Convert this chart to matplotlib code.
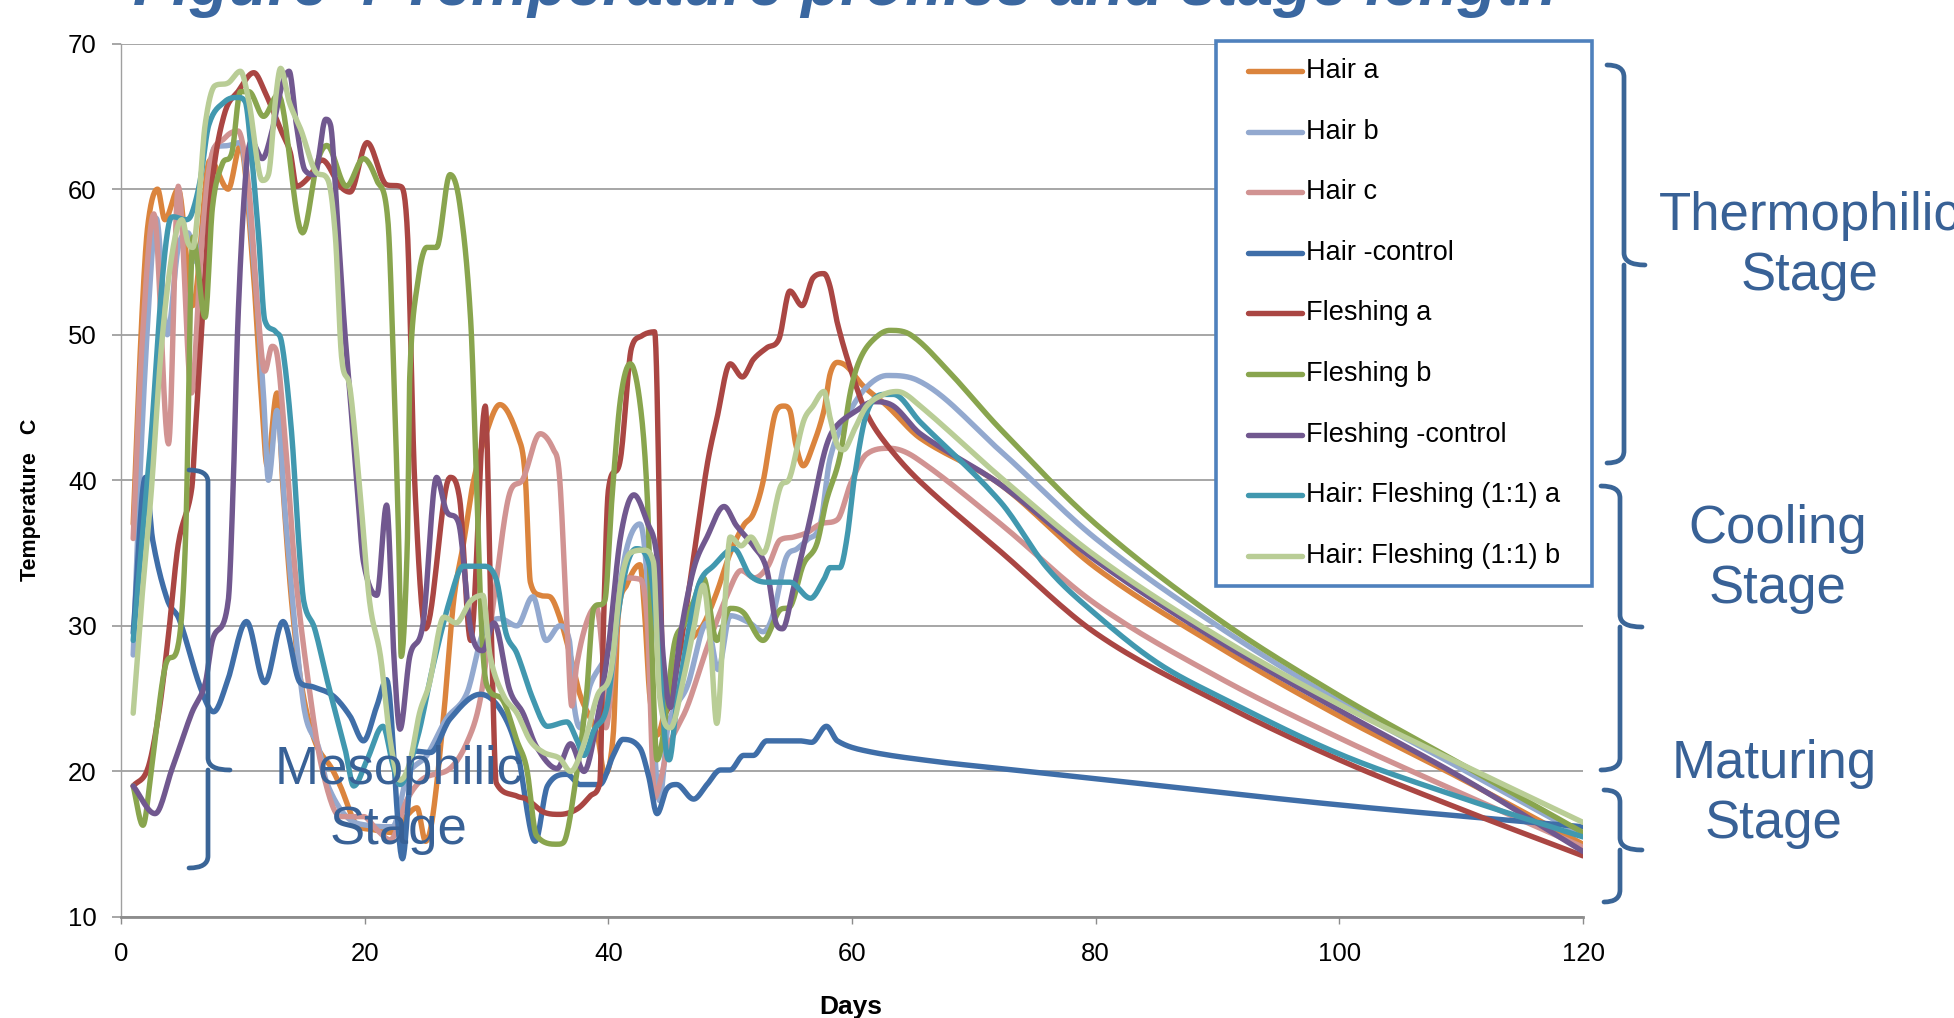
import numpy as np
import matplotlib
matplotlib.use("Agg")
import matplotlib.pyplot as plt
from matplotlib.lines import Line2D
from matplotlib.patches import Rectangle, PathPatch
from matplotlib.path import Path

plt.rcParams['font.family'] = ['Liberation Sans', 'DejaVu Sans']

# ---------------- data (day, temperature C) ----------------
series_names = ["Hair a", "Hair b", "Hair c", "Hair -control", "Fleshing a",
                "Fleshing b", "Fleshing -control", "Hair: Fleshing (1:1) a",
                "Hair: Fleshing (1:1) b"]

hair_a_days = [1, 1.7, 2.2, 3.0, 3.6, 4.7, 5.9, 7.3, 8.8, 9.8, 10.8, 11.5, 12.0, 12.8, 13.3, 14.0, 14.8,
               15.9, 17.3, 18.0, 19.4, 20.7, 22.4, 23.5, 24.3, 25.0, 25.6, 26.5, 27.3, 28.1, 28.9,
               30.0, 31.1, 32.8, 33.2, 33.6, 34.4, 35.2, 36.0, 36.9, 37.7, 39.1, 39.7, 40.4, 40.8,
               41.5, 42.6, 43.0, 43.4, 44.0, 44.9, 45.9, 46.7, 47.8, 48.9, 50.0, 51.1, 51.9, 52.7,
               53.8, 54.4, 54.9, 55.4, 56.0, 56.8, 57.7, 58.2, 58.8, 59.6, 60.9, 62.9, 65.6, 72.2,
               80, 90, 100, 110, 120]
hair_a_temp = [37, 51, 57.5, 60, 57.9, 60, 52, 62, 60, 63, 55, 46, 41, 46, 39.4, 31.7, 26,
               22.1, 20.2, 19, 16.3, 16, 15.8, 17, 17.5, 15.2, 17, 24, 31.7, 35.6, 39.8,
               43.3, 45.2, 42.5, 40, 33, 32.1, 32, 30.6, 27.9, 25.2, 22.5, 19.8, 22.5, 30.6,
               32.8, 34.2, 30.6, 25.2, 22.5, 25.2, 28.4, 29, 30.1, 32.3, 35, 36.9, 37.7, 39.9,
               44.8, 45.1, 44.8, 42.4, 41, 42.4, 44.8, 47.3, 48.1, 47.8, 46.5, 45.1, 42.9, 39.7,
               34, 28.6, 23.8, 19.5, 15.0]

hair_b_days = [1, 1.7, 2.5, 2.9, 3.8, 4.7, 5.5, 6.2, 7.7, 8.8, 9.8, 10.9, 11.7, 12.1, 12.8, 13.5,
               14.3, 15.1, 16.2, 16.9, 18.5, 20.2, 22.3, 23.5, 25.1, 26.7, 28.4, 29.7, 31.1,
               32.5, 33.8, 34.9, 36.0, 36.8, 37.2, 37.7, 38.5, 40.1, 41.5, 42.6, 43.2, 43.8,
               44.2, 44.9, 46.5, 48.1, 49.0, 50.0, 51.6, 52.7, 53.5, 54.6, 55.5, 56.3, 57.4,
               58.2, 59.6, 61.2, 62.9, 65.3, 72.2, 80, 90, 100, 110, 120]
hair_b_temp = [28, 43, 55, 58, 50, 56, 57, 55, 62.9, 63, 63.2, 55, 45.8, 40, 44.8, 37.5,
               29.8, 24, 21.7, 19.2, 16.9, 16.3, 16.2, 19.7, 21.1, 23.6, 25.4, 29.5, 30.5,
               30, 32, 29, 30, 29, 24.5, 23, 25.9, 28.7, 35.3, 37, 33, 21.6,
               18, 23.1, 25.9, 30.2, 27, 30.7, 30.2, 29.6, 30.7, 34.7, 35.3, 35.9, 37,
               41.5, 44.4, 46.4, 47.2, 46.9, 42, 36, 30, 24.8, 20.2, 15.6]

hair_c_days = [1, 1.7, 2.7, 3.9, 4.7, 5.8, 6.5, 7.3, 8.5, 9.6, 10.5, 11.2, 11.8, 12.4, 12.7, 13.5,
               14.3, 15.4, 16.5, 18.0, 19.9, 21.0, 22.1, 23.5, 24.8, 27.0, 28.4, 29.5, 30.6,
               31.9, 33.0, 34.4, 35.5, 36.0, 36.6, 37.0, 37.4, 38.2, 39.0, 39.6, 39.8, 40.4,
               41.2, 42.6, 43.2, 43.8, 44.2, 44.9, 46.5, 48.1, 49.8, 50.9, 52.0, 53.1, 54.1,
               55.2, 56.3, 57.4, 58.8, 59.9, 61.2, 63.1, 65.3, 72.2, 80, 90, 100, 110, 120]
hair_c_temp = [36, 49, 58.3, 42.5, 60.2, 46, 54.8, 61.8, 63.5, 64, 60, 52, 47.5, 49.2, 49, 42.5,
               33.7, 26, 20.2, 16.9, 16.9, 16.0, 15.3, 18.1, 19.5, 20.2, 22, 25, 31.8,
               39.1, 40.1, 43.2, 42.1, 40.2, 30.2, 24.5, 27.3, 30.2, 31.3, 27.3, 23, 27.3,
               33.3, 33.2, 30.2, 18.2, 19.1, 21.6, 24.5, 28.5, 32.2, 33.8, 33.3, 34.1, 35.9,
               36.1, 36.4, 37, 37.3, 39.8, 41.8, 42.2, 41.5, 37, 31.5, 26.5, 22.3, 18.5, 14.8]

hair_ctrl_days = [1, 2.0, 2.6, 3.8, 4.8, 6.5, 7.6, 8.7, 10.3, 11.8, 13.3, 14.7, 15.8, 17.4, 18.8,
                  19.9, 21.0, 21.8, 23.1, 24.0, 25.4, 27.0, 29.5, 31.1, 32.5, 34.0, 35.0, 36.6,
                  37.7, 39.3, 40.4, 41.2, 42.6, 43.3, 44.0, 44.8, 45.6, 47.0, 48.1, 49.2, 50.0,
                  51.1, 51.9, 53.0, 55.7, 56.7, 57.9, 58.8, 61.2, 66.7, 72.2, 80, 100, 120]
hair_ctrl_temp = [29.5, 40.2, 35.9, 31.8, 30.4, 25.8, 24.1, 26.1, 30.3, 26.1, 30.3, 26.1, 25.8, 25.2, 23.8,
                  22.1, 24.5, 26.3, 14.0, 21.4, 21.3, 23.6, 25.3, 24.3, 21.5, 15.2, 19.0, 19.8,
                  19.1, 19.1, 21.1, 22.2, 21.6, 19.7, 17.1, 18.8, 19.1, 18.1, 19.1, 20.1, 20.1,
                  21.1, 21.1, 22.1, 22.1, 22.0, 23.1, 22.1, 21.4, 20.7, 20.2, 19.5, 17.7, 16.2]

fl_a_days = [1, 2.2, 3.1, 3.9, 4.7, 5.8, 6.1, 6.8, 7.5, 8.5, 9.6, 10.9, 11.8, 13.1, 13.9, 14.4,
             15.4, 16.5, 18.0, 18.8, 20.2, 21.8, 22.9, 23.5, 24.1, 25.0, 27.0, 27.8, 28.7, 29.9,
             30.4, 30.8, 32.5, 33.3, 34.7, 36.0, 37.4, 38.5, 39.3, 39.6, 40.0, 41.0, 41.9, 42.7,
             43.8, 44.6, 45.5, 47.0, 48.1, 48.9, 50.0, 51.0, 51.9, 53.0, 54.0, 54.9, 55.9, 56.8,
             57.7, 58.2, 58.8, 59.9, 61.2, 62.9, 65.6, 72.2, 80, 90, 100, 110, 120]
fl_a_temp = [19, 20.2, 24, 29.4, 35.6, 39.4, 43.3, 52.9, 60.6, 65.2, 66.7, 68, 66.7, 64.1, 62.5, 60.2,
             60.8, 62, 60.2, 59.8, 63.2, 60.3, 60.2, 57.2, 40, 29.8, 40.2, 38.7, 29.0, 45.1,
             29.5, 19.2, 18.3, 18.1, 17.2, 17.05, 17.4, 18.3, 19.2, 30, 39.3, 41.5, 49.1, 49.9,
             50.2, 24.0, 26.5, 34.7, 41, 44.2, 48, 47.1, 48.3, 49.1, 49.7, 53, 52, 53.9,
             54.2, 53.3, 50.8, 47.6, 44.6, 42.4, 39.9, 35.1, 29.5, 24.8, 20.8, 17.4, 14.2]

fl_b_days = [1, 1.8, 2.5, 3.6, 4.7, 5.3, 5.9, 6.9, 7.5, 8.3, 9.1, 9.8, 10.5, 11.7, 12.9, 14.9, 16.1,
             16.9, 18.5, 19.9, 21.0, 21.9, 22.4, 22.8, 23.0, 23.5, 23.7, 24.3, 25.1, 25.9, 27.0,
             27.8, 28.7, 29.2, 29.6, 30.0, 31.4, 32.5, 33.3, 34.1, 35.8, 36.3, 37.4, 38.2, 38.8,
             39.7, 40.3, 41.0, 41.8, 42.6, 43.2, 43.6, 44.0, 44.5, 45.4, 46.2, 47.0, 47.8, 48.9,
             50.0, 51.1, 52.7, 54.1, 54.9, 56.0, 57.1, 57.9, 59.0, 59.9, 60.7, 61.8, 63.1, 64.8,
             67.8, 72.2, 80, 90, 100, 110, 120]
fl_b_temp = [19, 16.3, 20.2, 27.1, 28.7, 36, 56.7, 51.2, 58.7, 61.7, 62.5, 66.7, 66.7, 65, 66.5, 57, 61.8,
             63, 60.2, 62.1, 60.6, 57.9, 47.1, 35.6, 27.9, 35.6, 47.1, 53.3, 56, 56, 61,
             59, 51, 39.4, 29.8, 26, 24.8, 22.1, 20.2, 15.6, 15.0, 15.1, 19.8, 25.2, 31.2,
             31.7, 38.8, 45.6, 48, 45.3, 38.8, 27.9, 20.8, 22.5, 28.7, 30.1, 31.7, 33.3, 29,
             31.2, 30.9, 29, 31.1, 31.3, 34.2, 35.6, 38.6, 41.6, 46.2, 48.4, 49.7, 50.3, 50,
             47.6, 43.5, 37, 30.5, 25.2, 20.5, 15.8]

fl_ctrl_days = [1, 2.8, 4.2, 5.8, 6.9, 7.5, 8.8, 9.2, 9.6, 10.2, 10.7, 11.6, 12.4, 13.2, 13.8, 14.4,
                15.1, 15.9, 16.8, 17.2, 17.7, 18.3, 18.8, 19.4, 19.9, 21.0, 21.8, 22.4, 22.9, 23.7,
                24.8, 25.9, 26.7, 27.7, 28.7, 29.7, 30.6, 31.9, 33.0, 34.1, 35.8, 36.9, 38.0, 39.1,
                40.0, 41.0, 42.1, 43.2, 44.0, 44.5, 45.1, 45.9, 47.0, 48.1, 49.5, 50.5, 51.9, 53.0,
                53.8, 54.3, 55.2, 56.6, 57.7, 58.5, 60.4, 61.8, 63.4, 65.6, 72.2, 80, 90, 100, 110, 120]
fl_ctrl_temp = [19, 17.1, 20.2, 24, 26, 29, 31.7, 39.4, 51, 60.6, 63.3, 62.1, 64, 67.1, 68.1, 64.4,
                61.3, 61, 64.8, 64.4, 58.7, 51, 45.8, 39.4, 34.4, 32.1, 38.3, 27.9, 22.9, 27.9,
                30.2, 40.2, 37.9, 37.1, 29.8, 28.3, 30.2, 25.6, 24, 21.7, 20.2, 21.9, 20, 23.6,
                28.5, 36.1, 39, 37.1, 34.7, 27.9, 24.4, 29.3, 33.9, 36.1, 38.2, 36.9, 35.5, 33.9,
                30.1, 29.8, 32.6, 37.5, 41.8, 43.5, 44.8, 45.4, 45.1, 43.2, 39.7, 34.5, 29, 24.2, 19.6, 14.5]

mix_a_days = [1, 1.7, 2.5, 3.3, 3.9, 4.3, 5.3, 5.8, 6.5, 7.2, 8.5, 9.6, 10.2, 10.7, 11.3, 11.8,
              12.7, 13.2, 14.0, 14.6, 15.0, 15.9, 17.0, 18.4, 19.1, 20.2, 21.5, 22.3, 22.9, 24.3,
              25.6, 27.0, 28.1, 29.7, 30.8, 31.6, 32.5, 33.8, 35.0, 36.6, 37.4, 38.0, 38.8, 39.9,
              40.7, 41.5, 42.3, 43.4, 44.2, 44.8, 45.0, 45.6, 46.7, 47.5, 48.6, 50.3, 51.6, 53.0,
              54.9, 56.6, 57.7, 58.2, 59.0, 59.6, 60.2, 61.2, 62.6, 63.4, 65.6, 72.2, 76, 80, 85,
              90, 100, 110, 120]
mix_a_temp = [29, 35.6, 43.3, 52.9, 57.5, 58.1, 57.9, 58.3, 60.6, 64.4, 66, 66.3, 66, 62.5, 56.7, 51,
              50.2, 49.4, 43.3, 35.6, 31.7, 29.8, 26, 21.5, 19, 20.8, 23.1, 20.5, 19.1, 22.2,
              27.2, 31.8, 34.1, 34.1, 33.2, 29.5, 28.1, 25, 23.1, 23.4, 22.2, 21.1, 22.8, 24.5,
              30.2, 34.1, 35.3, 34.1, 27.3, 21.1, 20.8, 24.5, 30.2, 33, 34.1, 35.3, 33.5, 33,
              33, 31.9, 33.2, 34, 34, 36.1, 40.2, 44.6, 45.9, 45.9, 44, 38.5, 34, 30.8, 27.5,
              25.2, 21.2, 18.2, 15.5]

mix_b_days = [1, 1.7, 2.5, 3.3, 4.2, 5.0, 5.5, 5.9, 6.4, 6.9, 7.7, 8.8, 9.8, 10.5, 11.6, 12.1,
              12.7, 13.1, 13.8, 14.8, 15.9, 17.0, 17.6, 18.1, 18.8, 19.6, 20.4, 21.3, 22.1, 22.9,
              23.7, 24.5, 25.3, 26.5, 27.5, 28.7, 29.7, 30.3, 31.4, 32.5, 33.6, 34.7, 36.0, 36.9,
              38.0, 39.1, 40.2, 41.0, 41.8, 42.9, 43.7, 44.2, 45.1, 46.2, 47.0, 47.8, 48.4, 48.9,
              49.5, 50.0, 50.9, 51.7, 52.7, 54.1, 54.9, 56.0, 56.8, 57.7, 58.2, 58.8, 59.3, 60.2,
              61.2, 62.6, 63.7, 65.6, 72.2, 80, 90, 100, 110, 120]
mix_b_temp = [24, 31.7, 39.4, 49, 55.6, 57.9, 56.3, 56, 59.4, 64.4, 67.1, 67.3, 68.1, 66, 60.6, 61,
              66.3, 68.3, 66, 64, 61.3, 60.6, 56.7, 48.5, 46.3, 39.4, 31.7, 27.9, 22.1, 19.4,
              20.6, 24, 26, 30.6, 30.2, 31.7, 32.1, 27.9, 25.2, 24, 22.1, 21.3, 20.9, 20,
              21.9, 25.2, 26.8, 32.8, 35, 35.2, 34.4, 25.2, 23, 26.5, 29.8, 32.8, 28.7, 23.3,
              30.6, 36.1, 35.5, 36.1, 35, 39.5, 40.2, 44, 45.1, 46.1, 44.3, 42.4, 42.1, 43.5,
              45.1, 45.9, 46.1, 45.1, 40.2, 34.8, 29.3, 24.6, 20.5, 16.5]

series_days = [hair_a_days, hair_b_days, hair_c_days, hair_ctrl_days, fl_a_days,
               fl_b_days, fl_ctrl_days, mix_a_days, mix_b_days]
series_temps = [hair_a_temp, hair_b_temp, hair_c_temp, hair_ctrl_temp, fl_a_temp,
                fl_b_temp, fl_ctrl_temp, mix_a_temp, mix_b_temp]
colors = ['#DB843D', '#93A9CF', '#D19392', '#3F6EA8', '#AA4643',
          '#89A54E', '#71588F', '#4198AF', '#B9CD96']

x_ticks = [0, 20, 40, 60, 80, 100, 120]
y_ticks = [10, 20, 30, 40, 50, 60, 70]

stage_labels = ["Thermophilic\nStage", "Cooling\nStage", "Maturing\nStage", "Mesophilic\nStage"]


def smooth(x, y, n=16):
    """Smooth cubic Hermite curve through the points (no overshoot at peaks)."""
    x = np.asarray(x, float)
    y = np.asarray(y, float)
    d = np.diff(y) / np.diff(x)
    m = np.empty_like(y)
    m[0] = d[0]
    m[-1] = d[-1]
    m[1:-1] = (y[2:] - y[:-2]) / (x[2:] - x[:-2])
    for i in range(1, len(y) - 1):
        if d[i - 1] * d[i] <= 0:
            m[i] = 0.0
        else:
            lim = 3 * min(abs(d[i - 1]), abs(d[i]))
            if abs(m[i]) > lim:
                m[i] = np.sign(m[i]) * lim
    xs, ys = [], []
    t = np.linspace(0, 1, n, endpoint=False)
    for i in range(len(x) - 1):
        h = x[i + 1] - x[i]
        h00 = 2 * t**3 - 3 * t**2 + 1
        h10 = t**3 - 2 * t**2 + t
        h01 = -2 * t**3 + 3 * t**2
        h11 = t**3 - t**2
        xs.append(x[i] + t * h)
        ys.append(h00 * y[i] + h10 * h * m[i] + h01 * y[i + 1] + h11 * h * m[i + 1])
    xs.append([x[-1]])
    ys.append([y[-1]])
    return np.concatenate(xs), np.concatenate(ys)


W, H = 1954, 1018
fig = plt.figure(figsize=(W / 100, H / 100), dpi=100)
fig.patch.set_facecolor('white')


def fx(px):
    return px / W


def fy(py):
    return 1 - py / H


ax = fig.add_axes([fx(121), fy(917), fx(1583) - fx(121), fy(43.6) - fy(917)])

for d, t, c in zip(series_days, series_temps, colors):
    xs, ys = smooth(d, t)
    ax.plot(xs, ys, color=c, lw=3.9, solid_capstyle='round', solid_joinstyle='round', zorder=3)

ax.set_xlim(0, 120)
ax.set_ylim(10, 70)
ax.set_xticks(x_ticks)
ax.set_yticks(y_ticks)
ax.grid(axis='y', color='#A6A6A6', lw=1.4)
ax.grid(axis='x', visible=False)
ax.set_axisbelow(True)
for s in ['top', 'right']:
    ax.spines[s].set_visible(False)
ax.spines['left'].set_color('#A0A0A0')
ax.spines['left'].set_linewidth(1.0)
ax.spines['bottom'].set_color('#8C8C8C')
ax.spines['bottom'].set_linewidth(2.0)
ax.tick_params(axis='x', length=5, width=1, color='#8C8C8C', pad=13, labelsize=18.5)
ax.tick_params(axis='y', length=6.5, width=1.4, color='#A6A6A6', pad=11, labelsize=18.5)

# axis titles
fig.text(fx(31), fy(500), "Temperature   C", rotation=90, ha='center', va='center',
         fontsize=15.5, fontweight='bold')
fig.text(fx(851), fy(995), "Days", ha='center', va='top', fontsize=19, fontweight='bold')

# title (partly cut off at the top, as in the reference)
fig.text(fx(845), fy(5), "Figure 4 Temperature profiles and stage length", ha='center',
         va='baseline', fontsize=46, fontweight='bold', style='italic', color='#3A67A0')

# legend
fig.add_artist(Rectangle((fx(1216), fy(586)), fx(1592) - fx(1216), fy(41) - fy(586),
                         transform=fig.transFigure, facecolor='white', edgecolor='#4F81BD',
                         lw=2.6, zorder=5))
for i, (name, c) in enumerate(zip(series_names, colors)):
    yy = fy(71 + i * 60.6)
    fig.add_artist(Line2D([fx(1248), fx(1302)], [yy, yy], transform=fig.transFigure,
                          color=c, lw=3.9, solid_capstyle='round', zorder=6))
    fig.text(fx(1306), yy, name, ha='left', va='center', fontsize=19.5, zorder=6)

# braces
brace_col = '#3A6597'


def brace(x_left, x_v, x_tip, y_top, y_mid, y_bot, r=12):
    verts = [(x_left, y_top), (x_v, y_top), (x_v, y_top + r),
             (x_v, y_mid - r), (x_v, y_mid), (x_tip, y_mid),
             (x_v, y_mid), (x_v, y_mid + r),
             (x_v, y_bot - r), (x_v, y_bot), (x_left, y_bot)]
    codes = [Path.MOVETO, Path.CURVE3, Path.CURVE3,
             Path.LINETO, Path.CURVE3, Path.CURVE3,
             Path.MOVETO, Path.LINETO,
             Path.LINETO, Path.CURVE3, Path.CURVE3]
    verts = [(fx(a), fy(b)) for a, b in verts]
    p = Path(verts, codes)
    fig.add_artist(PathPatch(p, transform=fig.transFigure, fill=False, edgecolor=brace_col,
                             lw=3.4, capstyle='round', joinstyle='round', zorder=7))


brace(1607, 1624, 1645, 65, 265, 463)
brace(1601, 1620, 1642, 486, 627, 770)
brace(1604, 1620, 1642, 790, 850, 902)
brace(189, 208, 230, 470, 770, 868)

# stage labels
stage_pos = [(1810, 246), (1778, 559), (1774, 794), (399, 800)]
for lab, (px, py) in zip(stage_labels, stage_pos):
    fig.text(fx(px), fy(py), lab, ha='center', va='center', multialignment='center',
             fontsize=38, color='#386196', linespacing=1.27, zorder=8)

fig.savefig("out.png", dpi=100, facecolor='white')
